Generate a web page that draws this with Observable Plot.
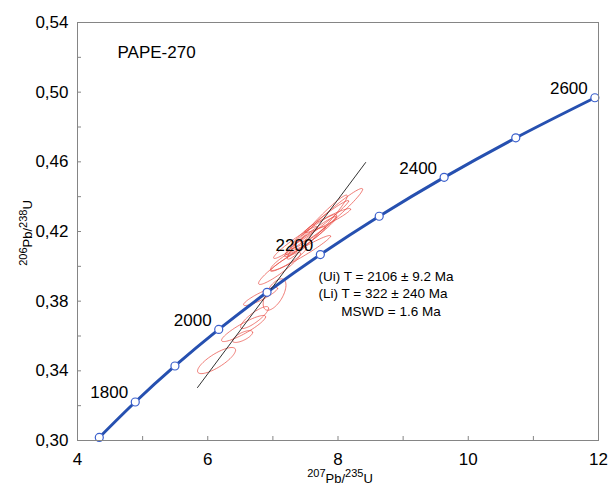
<!DOCTYPE html>
<html>
<head>
<meta charset="utf-8">
<script src="https://cdn.jsdelivr.net/npm/d3@7"></script>
<script src="https://cdn.jsdelivr.net/npm/@observablehq/plot@0.6"></script>
<style>
  html, body { margin: 0; padding: 0; background: #fff; }
  svg { font-family: "Liberation Sans", Arial, sans-serif; }
</style>
</head>
<body>
<div id="chart"></div>
<script>
// ---- Data ----
// Concordia reference ages (Ma) and ratios
const concAge = [1700, 1800, 1900, 2000, 2100, 2200, 2300, 2400, 2500, 2600];
const concX = [4.3346, 4.8869, 5.4962, 6.1685, 6.9105, 7.7291, 8.6327, 9.6296, 10.7299, 11.9442];
const concY = [0.30174, 0.32211, 0.34278, 0.36377, 0.38510, 0.40675, 0.42875, 0.45108, 0.47376, 0.49680];
const concLabelAges = [1800, 2000, 2200, 2400, 2600];

// Discordia line end points
const discX = [5.843, 8.424];
const discY = [0.3304, 0.4596];

// Analysis error ellipses: centre, half-extent in x and y, correlation
const ellX   = [7.902, 7.682, 7.625, 7.425, 7.103, 7.349, 7.840, 7.579, 7.241, 7.733, 7.502, 7.026, 6.811, 6.719, 6.550, 6.535, 6.135];
const ellY   = [0.4292, 0.4225, 0.4200, 0.4074, 0.3988, 0.4137, 0.4263, 0.4171, 0.4045, 0.4252, 0.4148, 0.3838, 0.3827, 0.3706, 0.3643, 0.3597, 0.3459];
const ellHx  = [0.476, 0.461, 0.353, 0.461, 0.323, 0.338, 0.353, 0.399, 0.276, 0.430, 0.307, 0.175, 0.261, 0.215, 0.338, 0.154, 0.292];
const ellHy  = [0.0155, 0.0184, 0.0098, 0.0103, 0.0092, 0.0092, 0.0069, 0.0115, 0.0069, 0.0126, 0.0080, 0.0090, 0.0052, 0.0063, 0.0075, 0.0034, 0.0075];
const ellRho = [0.97, 0.97, 0.95, 0.97, 0.93, 0.96, 0.95, 0.97, 0.90, 0.98, 0.95, 0.60, 0.90, 0.85, 0.90, 0.70, 0.80];

// Axis ticks
const xTicks = [4, 6, 8, 10, 12];
const xMinor = [5, 6, 7, 8, 9, 10, 11];
const yTicks = [0.30, 0.34, 0.38, 0.42, 0.46, 0.50, 0.54];
const yMinor = [0.32, 0.34, 0.36, 0.38, 0.40, 0.42, 0.44, 0.46, 0.48, 0.50, 0.52];

// Annotations
const sampleName = "PAPE-270";
const annotText = ["(Ui) T = 2106 ± 9.2 Ma", "(Li) T = 322 ± 240 Ma", "MSWD = 1.6 Ma"];
const annotX = [7.702, 7.702, 8.051];
const annotY = [0.3942, 0.3842, 0.3742];

// ---- Build tables ----
const conc = concAge.map((a, i) => ({age: a, x: concX[i], y: concY[i]}));
const concLabels = conc.filter(d => concLabelAges.includes(d.age));
const disc = discX.map((x, i) => ({x, y: discY[i]}));
const annot = annotText.map((t, i) => ({t, x: annotX[i], y: annotY[i]}));

const N = 72;
const ellPts = [];
ellX.forEach((cx, k) => {
  const hx = ellHx[k], hy = ellHy[k], r = ellRho[k], s = Math.sqrt(1 - r * r);
  for (let j = 0; j < N; j++) {
    const t = (2 * Math.PI * j) / N;
    ellPts.push({id: k, x: cx + hx * Math.cos(t), y: ellY[k] + hy * (r * Math.cos(t) + s * Math.sin(t))});
  }
});

const W = 610, H = 485, mL = 77, mR = 12, mT = 22, mB = 45;
const frameW = W - mL - mR, frameH = H - mT - mB;
const blue = "#2650b0";
const red = "#e8463e";
const gray = "#858585";
const fontFamily = "'Liberation Sans', Arial, sans-serif";

const svg = Plot.plot({
  width: W,
  height: H,
  marginLeft: mL,
  marginRight: mR,
  marginTop: mT,
  marginBottom: mB,
  style: {fontFamily, fontSize: "17px", background: "#fff"},
  x: {domain: [4, 12]},
  y: {domain: [0.30, 0.54]},
  marks: [
    Plot.tickX(xMinor, {x: d => d, insetTop: frameH - 4, stroke: gray}),
    Plot.tickY(yMinor, {y: d => d, insetRight: frameW - 4, stroke: gray}),
    Plot.axisX(xTicks, {tickSize: 0, tickPadding: 12, fontSize: 17, tickFormat: d => String(d), label: null}),
    Plot.axisY(yTicks, {tickSize: 0, tickPadding: 9, fontSize: 17, tickFormat: d => d.toFixed(2).replace(".", ","), label: null}),
    Plot.line(ellPts, {x: "x", y: "y", z: "id", curve: "linear-closed", stroke: red, strokeWidth: 0.7}),
    Plot.line(conc, {x: "x", y: "y", curve: "catmull-rom", stroke: blue, strokeWidth: 3}),
    Plot.line(disc, {x: "x", y: "y", stroke: "#333", strokeWidth: 1}),
    Plot.dot(conc, {x: "x", y: "y", r: 4, fill: "#fff", stroke: "#3a5fcc", strokeWidth: 1.2}),
    Plot.text(concLabels, {x: "x", y: "y", text: d => String(d.age), dx: -26, dy: -9, fontSize: 17, fill: "#000"}),
    Plot.text([sampleName], {x: 4.614, y: 0.5228, text: d => d, textAnchor: "start", fontSize: 17, fill: "#000"}),
    Plot.text(annot, {x: "x", y: "y", text: "t", textAnchor: "start", fontSize: 13.5, fill: "#000"}),
    Plot.frame({stroke: gray})
  ]
});

// Axis titles with raised isotope mass numbers
const s = d3.select(svg);
const xl = s.append("text")
  .attr("text-anchor", "middle")
  .attr("transform", "translate(340,483)")
  .attr("font-family", fontFamily)
  .attr("fill", "#000");
xl.append("tspan").attr("font-size", 11).attr("dy", -6).text("207");
xl.append("tspan").attr("font-size", 13).attr("dy", 6).text("Pb/");
xl.append("tspan").attr("font-size", 11).attr("dy", -6).text("235");
xl.append("tspan").attr("font-size", 13).attr("dy", 6).text("U");

const yl = s.append("text")
  .attr("text-anchor", "middle")
  .attr("transform", "translate(32,233) rotate(-90)")
  .attr("font-family", fontFamily)
  .attr("fill", "#000");
yl.append("tspan").attr("font-size", 11).attr("dy", -5).text("206");
yl.append("tspan").attr("font-size", 13).attr("dy", 5).text("Pb/");
yl.append("tspan").attr("font-size", 11).attr("dy", -5).text("238");
yl.append("tspan").attr("font-size", 13).attr("dy", 5).text("U");

document.getElementById("chart").appendChild(svg);
</script>
</body>
</html>
